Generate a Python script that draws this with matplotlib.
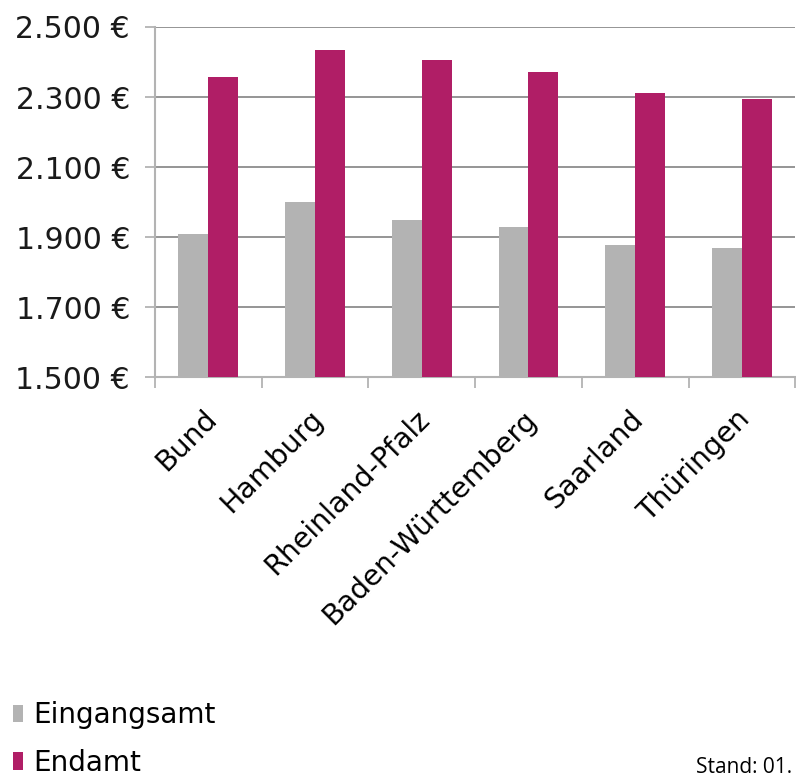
import numpy as np
import matplotlib
matplotlib.use('Agg')
import matplotlib.pyplot as plt
from matplotlib.ticker import FuncFormatter, FixedLocator
from matplotlib.transforms import ScaledTranslation

# data
laender = ['Bund', 'Hamburg', 'Rheinland-Pfalz', 'Baden-Württemberg', 'Saarland', 'Thüringen']
eingangsamt = [1910, 2000, 1950, 1930, 1878, 1870]
endamt = [2356, 2434, 2406, 2370, 2312, 2294]
y_ticks = [1500, 1700, 1900, 2100, 2300, 2500]

GRAY = '#b3b3b3'
MAGENTA = '#b01e66'

fig = plt.figure(figsize=(7.96, 7.78), dpi=100)
ax = fig.add_axes([0.1947, 0.5154, 0.8043, 0.4499])

x = np.arange(len(laender))
w = 0.28
b1 = ax.bar(x - w / 2, eingangsamt, w, color=GRAY, label='Eingangsamt', zorder=3)
b2 = ax.bar(x + w / 2, endamt, w, color=MAGENTA, label='Endamt', zorder=3)

ax.set_ylim(1500, 2500)
ax.set_xlim(-0.5, len(laender) - 0.5)
ax.set_yticks(y_ticks)
ax.yaxis.set_major_formatter(FuncFormatter(lambda v, p: f'{int(v):,} €'.replace(',', '.')))
ax.yaxis.grid(True, color='#8c8c8c', linewidth=1.3, zorder=0)

# ticks sit between the groups, labels at group centre
ax.xaxis.set_major_locator(FixedLocator(np.arange(-0.5, len(laender), 1)))
ax.xaxis.set_major_formatter(plt.NullFormatter())
ax.xaxis.set_minor_locator(FixedLocator(x))
ax.set_xticklabels(laender, minor=True, rotation=45, ha='right', rotation_mode='anchor', fontsize=20.5)
ax.tick_params(axis='x', which='minor', length=0, pad=20)
ax.tick_params(axis='x', which='major', length=8, width=1.3, color=GRAY, direction='out')
ax.tick_params(axis='y', length=7, width=1.3, color=GRAY, labelsize=21.5, pad=11)
shift = ScaledTranslation(-6 / 100, 0, fig.dpi_scale_trans)
for lbl in ax.get_xticklabels(minor=True):
    lbl.set_transform(lbl.get_transform() + shift)
for lbl in ax.get_yticklabels():
    lbl.set_color('#1a1a1a')

for s in ['top', 'right']:
    ax.spines[s].set_visible(False)
for s in ['left', 'bottom']:
    ax.spines[s].set_color(GRAY)
    ax.spines[s].set_linewidth(1.5)
ax.spines['left'].set_zorder(4)

fig.legend([b1, b2], ['Eingangsamt', 'Endamt'], loc='lower left', bbox_to_anchor=(-0.012, -0.027),
           frameon=False, fontsize=20, handlelength=0.38, handleheight=0.6,
           handletextpad=0.35, labelspacing=0.7, borderpad=0.3)

fig.text(0.874, 0.006, 'Stand: 01.', fontsize=15, family=['Open Sans', 'DejaVu Sans'], va='baseline')

fig.savefig('out.png', dpi=100)
